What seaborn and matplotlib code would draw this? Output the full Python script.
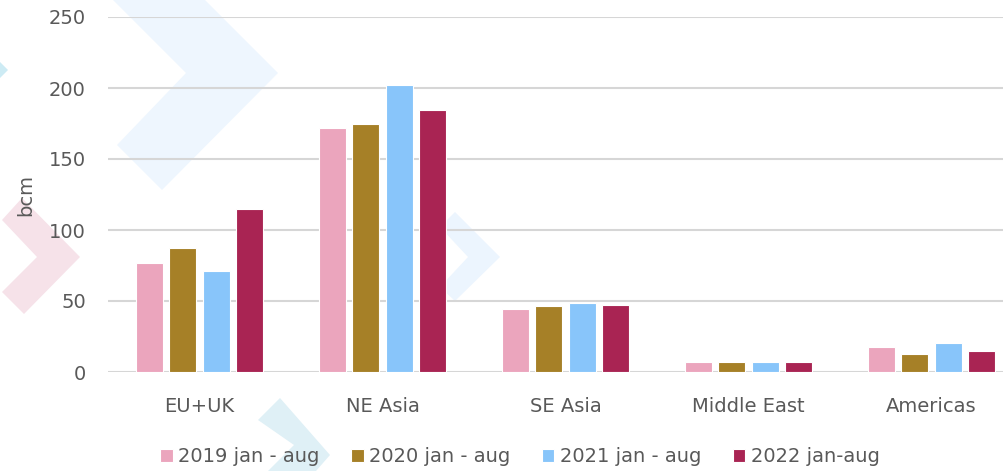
import pandas as pd
import matplotlib
matplotlib.use('Agg')
import matplotlib.pyplot as plt
from matplotlib.patches import Polygon
import seaborn as sns

# data (bcm)
regions = ['EU+UK', 'NE Asia', 'SE Asia', 'Middle East', 'Americas']
periods = ['2019 jan - aug', '2020 jan - aug', '2021 jan - aug', '2022 jan-aug']
v2019 = [77, 172, 44.5, 7, 17.5]
v2020 = [87, 174.5, 46.5, 7, 12.5]
v2021 = [71, 202, 48.5, 7, 20.5]
v2022 = [115, 184.5, 47.5, 7, 14.5]
palette = ['#eba5bd', '#a68027', '#88c5fa', '#a92453']

df = pd.DataFrame({
    'region': regions * 4,
    'period': [p for p in periods for _ in regions],
    'bcm': v2019 + v2020 + v2021 + v2022,
})

sns.set_style('white')
plt.rcParams['font.family'] = ['DejaVu Sans']
txt = '#595959'

W, H = 1004, 471
fig = plt.figure(figsize=(W / 100, H / 100), dpi=100)
fig.patch.set_facecolor('white')

# faint background chevrons (decoration), pixel coords -> figure fraction
def chevron(pts, color):
    xy = [(x / W, 1 - y / H) for x, y in pts]
    fig.add_artist(Polygon(xy, closed=True, facecolor=color, edgecolor='none',
                           transform=fig.transFigure, zorder=-1))

chevron([(113, 0), (205, 0), (278, 73), (162, 190), (117, 145), (186, 73), (113, 0)], '#eef6fe')
chevron([(22, 198), (80, 257), (24, 314), (2, 292), (37, 257), (2, 220)], '#f6e2e9')
chevron([(455, 212), (500, 257), (455, 301), (440, 287), (468, 257), (440, 227)], '#ecf5fe')
chevron([(258, 420), (280, 398), (330, 455), (316, 471), (268, 471), (294, 445)], '#dff0f6')
chevron([(0, 62), (8, 70), (0, 78)], '#cdebf4')

ax = fig.add_axes([108 / W, 99 / H, 915 / W, 355 / H])
ax.set_facecolor('none')
ax.set_zorder(1)

sns.barplot(data=df, x='region', y='bcm', hue='period', palette=palette,
            saturation=1, width=0.73, gap=0.2, edgecolor='white', linewidth=0.8,
            errorbar=None, ax=ax, zorder=3)

ax.set_ylim(0, 250)
ax.set_yticks(range(0, 251, 50))
ax.set_xlim(-0.5, 4.5)
ax.yaxis.grid(True, color='#d6d6d6', linewidth=1.5, zorder=0)
ax.set_axisbelow(True)
for s in ax.spines.values():
    s.set_visible(False)

ax.tick_params(axis='both', length=0, labelsize=14, labelcolor=txt)
ax.tick_params(axis='y', pad=16)
ax.tick_params(axis='x', pad=18)
ax.set_xlabel('')
ax.set_ylabel('bcm', fontsize=14, color=txt)
ax.yaxis.set_label_coords(-0.08, 0.5)

handles, labels = ax.get_legend_handles_labels()
ax.legend(handles, labels, loc='center', bbox_to_anchor=(520 / W, 14 / H),
          bbox_transform=fig.transFigure, ncol=4, frameon=False,
          fontsize=14, labelcolor=txt, handlelength=0.65, handleheight=0.65,
          handletextpad=0.3, columnspacing=1.6)

fig.savefig('out.png', dpi=100)
